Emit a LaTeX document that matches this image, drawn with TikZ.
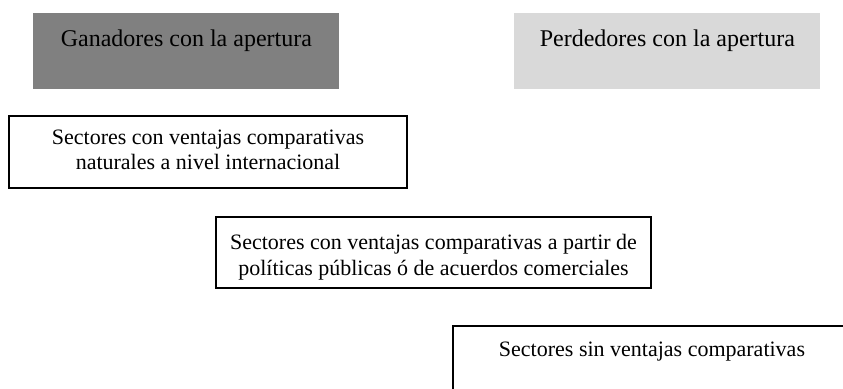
\documentclass[tikz,border=0pt]{standalone}
\usepackage{fontspec}
\setmainfont{Liberation Serif}
\definecolor{darkfill}{HTML}{808080}
\definecolor{lightfill}{HTML}{D9D9D9}
\tikzset{
  box/.style={draw=black, line width=1pt, inner sep=0pt, anchor=north west},
  headbox/.style={inner sep=0pt, anchor=north west},
  label11/.style={anchor=north, inner sep=0pt, align=center, font=\fontsize{11pt}{12.8pt}\selectfont},
  label12/.style={anchor=north, inner sep=0pt, align=center, font=\fontsize{12pt}{13.8pt}\selectfont}
}
\begin{document}
\begin{tikzpicture}[x=0.5pt,y=-0.5pt]
\useasboundingbox (0,0) rectangle (843,389);
\clip (0,0) rectangle (843,389);
% header boxes
\node[headbox, fill=darkfill, minimum width=153pt, minimum height=38pt] (win) at (33,13) {};
\node[headbox, fill=lightfill, minimum width=153pt, minimum height=38pt] (lose) at (514,13) {};
\node[label12] (wint) at ([yshift=-8pt]win.north) {Ganadores con la apertura};
\node[label12] (loset) at ([yshift=-8pt]lose.north) {Perdedores con la apertura};
% sector boxes
\node[box, minimum width=199pt, minimum height=36pt] (s1) at (8,115) {};
\node[label11] (s1t) at ([yshift=-7.2pt]s1.north) {Sectores con ventajas comparativas\\naturales a nivel internacional};
\node[box, minimum width=217.5pt, minimum height=35.5pt] (s2) at (215,216) {};
\node[label11] (s2t) at ([yshift=-9pt]s2.north) {Sectores con ventajas comparativas a partir de\\políticas públicas ó de acuerdos comerciales};
\node[box, minimum width=199pt, minimum height=45pt] (s3) at (452,325) {};
\node[label11] (s3t) at ([yshift=-8.5pt]s3.north) {Sectores sin ventajas comparativas};
\end{tikzpicture}
\end{document}
